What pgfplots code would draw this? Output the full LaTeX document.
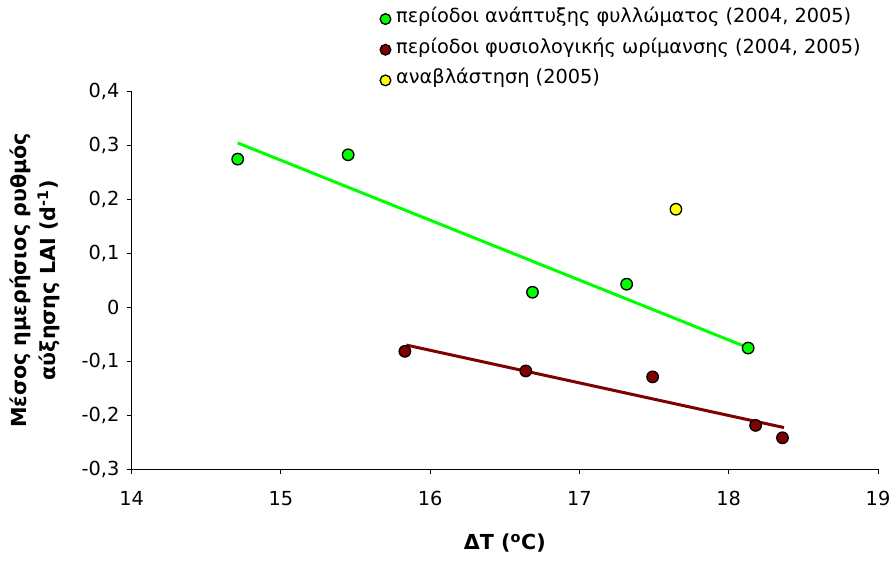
\documentclass[border=0pt]{standalone}
\usepackage{fontspec}
\setmainfont{DejaVu Sans}
\usepackage{pgfplots}
\pgfplotsset{compat=1.18}
\definecolor{cgreen}{RGB}{0,255,0}
\definecolor{cred}{RGB}{128,0,0}
\definecolor{cyellow}{RGB}{255,255,0}
\begin{document}
\begin{tikzpicture}
\begin{axis}[
  name=ax,
  scale only axis,
  width=559.7pt, height=283pt,
  xmin=14, xmax=19, ymin=-0.3, ymax=0.4,
  axis x line*=bottom, axis y line*=left,
  axis line style={line width=0.75pt, black},
  xtick={14,15,16,17,18,19},
  ytick={-0.3,-0.2,-0.1,0,0.1,0.2,0.3,0.4},
  tick align=outside,
  major tick length=3.75pt,
  tick style={black, line width=0.75pt},
  /pgf/number format/assume math mode=true,
  yticklabel style={/pgf/number format/fixed, /pgf/number format/precision=1, /pgf/number format/use comma, xshift=-2pt},
  xticklabel style={yshift=-9.5pt},
  ticklabel style={font=\fontsize{14.5}{17}\selectfont},
  xlabel={ΔT (\textsuperscript{o}C)},
  ylabel={Μέσος ημερήσιος ρυθμός\\αύξησης LAI (d\textsuperscript{-1})},
  label style={font=\bfseries\fontsize{15.5}{21.5}\selectfont},
  ylabel style={align=center, at={(axis description cs:-0.0905,0.5)}, anchor=south},
  xlabel style={at={(axis description cs:0.5,-0.2120)}, anchor=base},
  legend style={draw=none, fill=none, at={(axis description cs:0.3325,1.218)}, anchor=north west,
    inner sep=0pt, font=\fontsize{14.5}{17}\selectfont, row sep=9pt, column sep=2pt,
    nodes={inner sep=2pt, text height=0.75em, text depth=0.25em}},
  legend cell align=left,
  legend image code/.code={\draw[#1, mark size=4pt] plot coordinates {(0.14cm,0cm)};},
  clip=false,
]
\addplot[cgreen, line width=2.25pt, forget plot] table {
x y
14.71 0.305
18.13 -0.075
};
\addplot[cred, line width=2.25pt, forget plot] table {
x y
15.84 -0.070
18.37 -0.223
};
\addplot[only marks, mark=*, mark size=4.3pt, mark options={fill=cgreen, draw=black, line width=1pt}] table {
x y
14.71 0.275
15.45 0.283
16.685 0.028
17.316 0.043
18.13 -0.0755
};
\addlegendentry{περίοδοι ανάπτυξης φυλλώματος (2004, 2005)}
\addplot[only marks, mark=*, mark size=4.3pt, mark options={fill=cred, draw=black, line width=1pt}] table {
x y
15.83 -0.0816
16.64 -0.118
17.49 -0.129
18.18 -0.219
18.36 -0.242
};
\addlegendentry{περίοδοι φυσιολογικής ωρίμανσης (2004, 2005)}
\addplot[only marks, mark=*, mark size=4.3pt, mark options={fill=cyellow, draw=black, line width=1pt}] table {
x y
17.646 0.182
};
\addlegendentry{αναβλάστηση (2005)}
\end{axis}
\pgfresetboundingbox
\useasboundingbox ([xshift=-98.8pt,yshift=-68.25pt]ax.south west) rectangle ([xshift=10.5pt,yshift=68.8pt]ax.north east);
\end{tikzpicture}
\end{document}
